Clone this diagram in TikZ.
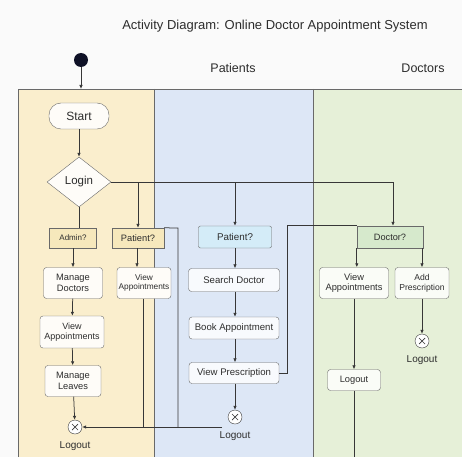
\documentclass[tikz,border=0pt]{standalone}
\usepackage{fontspec}
\setmainfont{Liberation Sans}
\usetikzlibrary{positioning,arrows.meta,shapes.geometric}
\definecolor{paper}{RGB}{250,250,250}
\definecolor{laneyellow}{RGB}{250,238,205}
\definecolor{laneblue}{RGB}{221,231,246}
\definecolor{lanegreen}{RGB}{230,240,216}
\definecolor{guardyellow}{RGB}{246,232,188}
\definecolor{guardblue}{RGB}{212,236,248}
\definecolor{guardgreen}{RGB}{214,233,204}
\definecolor{linegray}{RGB}{55,55,55}
\definecolor{boxgray}{RGB}{105,105,105}
\definecolor{textgray}{RGB}{45,45,45}
\definecolor{initblue}{RGB}{14,17,38}

\begin{document}
\begin{tikzpicture}[x=1pt,y=-1pt, every node/.style={text=textgray},
    actbox/.style={draw=boxgray, rounded corners=3pt, align=center, inner sep=0.5pt, font=\fontsize{9.3}{10.5}\selectfont},
    guard/.style={draw=boxgray, inner sep=1pt, font=\fontsize{8}{9}\selectfont},
    endnode/.style={circle, draw=linegray, fill=white, minimum size=14pt, inner sep=0pt,
      path picture={\draw[linegray, line width=0.7pt]
        ([shift={(-3pt,-3pt)}]path picture bounding box.center) -- ([shift={(3pt,3pt)}]path picture bounding box.center)
        ([shift={(-3pt,3pt)}]path picture bounding box.center) -- ([shift={(3pt,-3pt)}]path picture bounding box.center);}},
    endlabel/.style={font=\fontsize{10}{11}\selectfont, inner sep=1pt, label distance=6pt},
    flow/.style={draw=linegray, line width=0.75pt, -{Latex[length=4pt,width=3.5pt]}},
    wire/.style={draw=linegray, line width=0.75pt}]
  \useasboundingbox (0,0) rectangle (462,457);
  \fill[paper] (0,0) rectangle (462,457);
  % swimlanes
  \fill[laneyellow] (18,89) rectangle (154,457);
  \fill[laneblue] (154,89) rectangle (313,457);
  \fill[lanegreen] (313,89) rectangle (462,457);
  \draw[boxgray, line width=0.6pt] (18,457) -- (18,89) -- (462,89);
  \draw[boxgray, line width=0.6pt] (154,89) -- (154,457) (313,89) -- (313,457);
  \node[font=\fontsize{13}{15}\selectfont] (title) at (275,26) {Activity Diagram: Online Doctor Appointment System};
  \node[font=\fontsize{12.5}{14}\selectfont] (hpatients) at (233,68) {Patients};
  \node[font=\fontsize{12.5}{14}\selectfont] (hdoctors) at (423,68) {Doctors};

  % start and login
  \node[circle, fill=initblue, minimum size=14pt, inner sep=0pt] (init) at (81,60) {};
  \coordinate (entry) at (81,89);
  \node[actbox, rounded corners=12pt, fill=white!85!laneyellow, minimum width=60pt, minimum height=26pt, font=\fontsize{12}{13}\selectfont] (start) at (79,116) {Start};
  \node[diamond, draw=boxgray, fill=white!85!laneyellow, minimum width=64pt, minimum height=50pt, inner sep=0pt, font=\fontsize{11.5}{13}\selectfont] (login) at (79,182) {Login};

  % admin lane
  \node[guard, fill=guardyellow, minimum width=47pt, minimum height=20pt] (adminq) at (73,238) {Admin?};
  \node[actbox, fill=white!85!laneyellow, minimum width=59pt, minimum height=31pt] (mandoc) at (73,283) {Manage\\Doctors};
  \node[actbox, fill=white!85!laneyellow, minimum width=64pt, minimum height=32pt, font=\fontsize{9}{10.5}\selectfont] (admview) at (72,332) {View\\Appointments};
  \node[actbox, fill=white!85!laneyellow, minimum width=56pt, minimum height=31pt] (manleave) at (73,381) {Manage\\Leaves};
  \node[endnode, label={[endlabel]below:Logout}] (admend) at (75,427) {};

  \node[guard, fill=guardyellow, minimum width=52pt, minimum height=20pt, font=\fontsize{9.3}{10}\selectfont] (patq) at (138,238) {Patient?};
  \node[actbox, fill=white!85!laneyellow, minimum width=54pt, minimum height=31pt, font=\fontsize{8.3}{9.5}\selectfont] (patview) at (144,283) {View\\Appointments};

  % patients lane
  \node[guard, rounded corners=2pt, fill=guardblue, minimum width=73pt, minimum height=22pt, font=\fontsize{9.8}{11}\selectfont] (ptq) at (235,237) {Patient?};
  \node[actbox, fill=white!80!laneblue, minimum width=91pt, minimum height=23pt, font=\fontsize{9.6}{11}\selectfont] (search) at (234,280) {Search Doctor};
  \node[actbox, fill=white!80!laneblue, minimum width=90pt, minimum height=22pt, font=\fontsize{9.6}{11}\selectfont] (book) at (234,328) {Book Appointment};
  \node[actbox, fill=white!80!laneblue, minimum width=90pt, minimum height=21pt, font=\fontsize{9.6}{11}\selectfont] (viewpres) at (234,373) {View Prescription};
  \node[endnode, label={[endlabel]below:Logout}] (ptend) at (235,417) {};

  % doctors lane
  \node[guard, fill=guardgreen, minimum width=66pt, minimum height=22pt, font=\fontsize{9.2}{10}\selectfont] (docq) at (390,237) {Doctor?};
  \node[actbox, fill=white!80!lanegreen, minimum width=69pt, minimum height=31pt] (docview) at (354,283) {View\\Appointments};
  \node[actbox, fill=white!80!lanegreen, minimum width=54pt, minimum height=31pt, font=\fontsize{8.6}{10}\selectfont] (addpres) at (422,283) {Add\\Prescription};
  \node[endnode, label={[endlabel]below:Logout}] (docend) at (422,341) {};
  \node[actbox, fill=white!80!lanegreen, minimum width=53pt, minimum height=21pt] (doclogout) at (354,380) {Logout};

  % connectors
  \coordinate (split) at (393,182);
  \coordinate (ptjoin) at (222,427);
  \coordinate (frame) at (178,228);
  \coordinate (bottom) at (354,457);
  \draw[flow] (init) -- (entry);
  \draw[flow] (start) -- (login);
  \draw[wire] (login.south) -- (login.south |- adminq.north);
  \draw[wire] (login.east) -- (split);
  \draw[flow] (login.east -| patq) -- (patq.north -| login.east -| patq);
  \draw[flow] (login.east -| ptq) -- (ptq.north);
  \draw[flow] (split) -- (split |- docq.north);
  \foreach \a/\b in {adminq/mandoc,mandoc/admview,admview/manleave,manleave/admend}
    \draw[flow] (\a) -- (\b);
  \draw[flow] (patq.south -| 137,0) -- (patview.north -| 137,0);
  \draw[wire] (patview.south -| 143,0) -- (143,427);
  \draw[wire] (patq.north east) -- (frame) -- (frame |- ptjoin);
  \draw[flow] (ptjoin) -- (admend.east);
  \foreach \a/\b in {ptq/search,search/book,book/viewpres,viewpres/ptend}
    \draw[flow] (\a.south -| 235,0) -- (\b.north -| 235,0);
  \draw[wire] (viewpres.east) -- ++(8,0) |- (docq.north west);
  \draw[flow] (docq.south west) -- (docq.south west |- docview.north);
  \draw[flow] (docq.south -| addpres) -- (addpres.north);
  \draw[flow] (addpres) -- (docend);
  \draw[flow] (docview) -- (doclogout);
  \draw[wire] (doclogout) -- (bottom);
\end{tikzpicture}
\end{document}
